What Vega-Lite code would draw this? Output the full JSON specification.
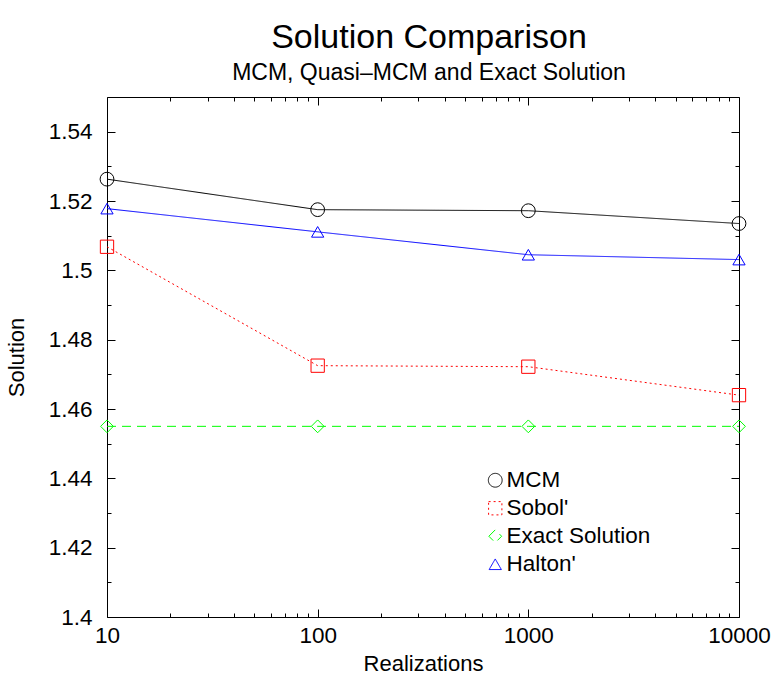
{
  "$schema": "https://vega.github.io/schema/vega-lite/v6.json",
  "autosize": {"type": "none"},
  "padding": {"left": 107, "top": 97, "right": 34, "bottom": 65},
  "width": 632,
  "height": 520,
  "background": "white",
  "title": {
    "text": "Solution Comparison",
    "subtitle": "MCM, Quasi–MCM and Exact Solution",
    "anchor": "middle",
    "frame": "group",
    "font": "Liberation Sans",
    "fontSize": 34,
    "fontWeight": "normal",
    "color": "black",
    "subtitleFont": "Liberation Sans",
    "subtitleFontSize": 23,
    "subtitleColor": "black",
    "subtitlePadding": 7,
    "offset": 12,
    "dx": 6
  },
  "config": {
    "view": {"stroke": "black", "strokeWidth": 1},
    "axis": {"grid": false, "domain": false, "tickColor": "black", "tickWidth": 1, "labelColor": "black", "titleColor": "black", "labelFont": "Liberation Sans", "titleFont": "Liberation Sans", "labelFontSize": 22.5, "titleFontSize": 22, "titleFontWeight": "normal", "labelFlush": false, "labelOverlap": false},
    "legend": {"labelFont": "Liberation Sans", "labelFontSize": 22.5, "labelColor": "black", "labelLimit": 400}
  },
  "data": {
    "values": [
      {"Realizations": 10, "Solution": 1.5263, "Method": "MCM"},
      {"Realizations": 100, "Solution": 1.5175, "Method": "MCM"},
      {"Realizations": 1000, "Solution": 1.5172, "Method": "MCM"},
      {"Realizations": 10000, "Solution": 1.5135, "Method": "MCM"},
      {"Realizations": 10, "Solution": 1.5068, "Method": "Sobol'"},
      {"Realizations": 100, "Solution": 1.4725, "Method": "Sobol'"},
      {"Realizations": 1000, "Solution": 1.4722, "Method": "Sobol'"},
      {"Realizations": 10000, "Solution": 1.464, "Method": "Sobol'"},
      {"Realizations": 10, "Solution": 1.455, "Method": "Exact Solution"},
      {"Realizations": 100, "Solution": 1.455, "Method": "Exact Solution"},
      {"Realizations": 1000, "Solution": 1.455, "Method": "Exact Solution"},
      {"Realizations": 10000, "Solution": 1.455, "Method": "Exact Solution"},
      {"Realizations": 10, "Solution": 1.5178, "Method": "Halton'"},
      {"Realizations": 100, "Solution": 1.5111, "Method": "Halton'"},
      {"Realizations": 1000, "Solution": 1.5045, "Method": "Halton'"},
      {"Realizations": 10000, "Solution": 1.5031, "Method": "Halton'"}
    ]
  },
  "layer": [
    {
      "mark": {"type": "line", "strokeWidth": 1},
      "encoding": {
        "x": {"field": "Realizations", "type": "quantitative",
          "scale": {"type": "log", "domain": [10, 10000], "nice": false},
          "axis": {"orient": "bottom", "values": [10, 100, 1000, 10000], "format": "d", "tickSize": -8, "labelPadding": 15, "title": "Realizations", "titlePadding": 7}},
        "y": {"field": "Solution", "type": "quantitative",
          "scale": {"domain": [1.4, 1.55], "nice": false, "zero": false},
          "axis": {"orient": "left", "values": [1.4, 1.42, 1.44, 1.46, 1.48, 1.5, 1.52, 1.54], "format": ".2~f", "tickSize": -8, "labelPadding": 23, "title": "Solution", "titlePadding": 20}},
        "color": {"field": "Method", "type": "nominal",
          "scale": {"domain": ["MCM", "Sobol'", "Exact Solution", "Halton'"], "range": ["#000000", "#ff0000", "#00ff00", "#0000ff"]}},
        "strokeDash": {"field": "Method", "type": "nominal",
          "scale": {"domain": ["MCM", "Sobol'", "Exact Solution", "Halton'"], "range": [[1, 0], [2, 3], [9, 6], [1, 0]]},
          "legend": null}
      }
    },
    {
      "mark": {"type": "point", "filled": false, "strokeWidth": 1, "opacity": 1},
      "encoding": {
        "x": {"field": "Realizations", "type": "quantitative",
          "scale": {"type": "log", "domain": [10, 10000], "nice": false},
          "axis": {"orient": "bottom", "values": [20, 30, 40, 50, 60, 70, 80, 90, 200, 300, 400, 500, 600, 700, 800, 900, 2000, 3000, 4000, 5000, 6000, 7000, 8000, 9000], "labels": false, "tickSize": -4, "title": null}},
        "y": {"field": "Solution", "type": "quantitative",
          "scale": {"domain": [1.4, 1.55], "nice": false, "zero": false},
          "axis": {"orient": "left", "values": [1.41, 1.43, 1.45, 1.47, 1.49, 1.51, 1.53], "labels": false, "tickSize": -4, "title": null}},
        "color": {"field": "Method", "type": "nominal",
          "scale": {"domain": ["MCM", "Sobol'", "Exact Solution", "Halton'"], "range": ["#000000", "#ff0000", "#00ff00", "#0000ff"]},
          "legend": {
            "title": null, "orient": "none", "legendX": 377, "legendY": 372, "padding": 0,
            "symbolSize": 225, "symbolStrokeWidth": 1, "symbolFillColor": "transparent", "labelOffset": 0, "rowPadding": 5
          }},
        "shape": {"field": "Method", "type": "nominal",
          "scale": {"domain": ["MCM", "Sobol'", "Exact Solution", "Halton'"], "range": ["circle", "square", "diamond", "triangle-up"]},
          "legend": null},
        "size": {"field": "Method", "type": "nominal",
          "scale": {"domain": ["MCM", "Sobol'", "Exact Solution", "Halton'"], "range": [190, 150, 200, 230]},
          "legend": null}
      }
    },
    {
      "mark": {"type": "line", "opacity": 0},
      "encoding": {
        "x": {"field": "Realizations", "type": "quantitative",
          "scale": {"type": "log", "domain": [10, 10000], "nice": false},
          "axis": {"orient": "top", "values": [10, 100, 1000, 10000], "labels": false, "tickSize": -8, "title": null}},
        "y": {"field": "Solution", "type": "quantitative",
          "scale": {"domain": [1.4, 1.55], "nice": false, "zero": false},
          "axis": {"orient": "right", "values": [1.4, 1.42, 1.44, 1.46, 1.48, 1.5, 1.52, 1.54], "labels": false, "tickSize": -8, "title": null}},
        "detail": {"field": "Method", "type": "nominal"}
      }
    },
    {
      "mark": {"type": "line", "opacity": 0},
      "encoding": {
        "x": {"field": "Realizations", "type": "quantitative",
          "scale": {"type": "log", "domain": [10, 10000], "nice": false},
          "axis": {"orient": "top", "values": [20, 30, 40, 50, 60, 70, 80, 90, 200, 300, 400, 500, 600, 700, 800, 900, 2000, 3000, 4000, 5000, 6000, 7000, 8000, 9000], "labels": false, "tickSize": -4, "title": null}},
        "y": {"field": "Solution", "type": "quantitative",
          "scale": {"domain": [1.4, 1.55], "nice": false, "zero": false},
          "axis": {"orient": "right", "values": [1.41, 1.43, 1.45, 1.47, 1.49, 1.51, 1.53], "labels": false, "tickSize": -4, "title": null}},
        "detail": {"field": "Method", "type": "nominal"}
      }
    }
  ],
  "resolve": {"scale": {"x": "independent", "y": "independent"}, "axis": {"x": "independent", "y": "independent"}}
}
